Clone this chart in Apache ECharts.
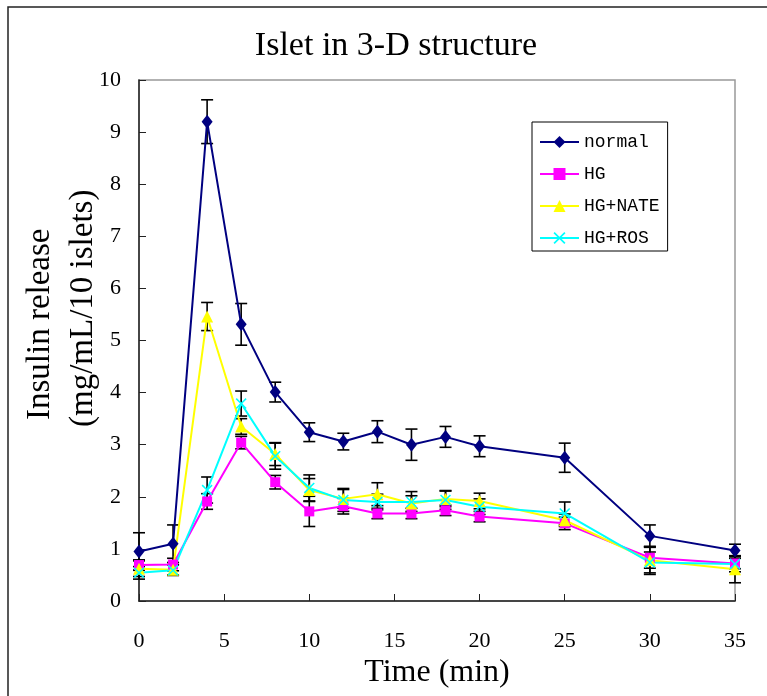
<!DOCTYPE html>
<html lang="en">
<head>
    <meta charset="UTF-8">
    <title>Islet in 3-D structure</title>
    <style>
        body{ margin: 0; background: #fff; }
        #main{ width: 767px; height: 696px; }
    </style>
</head>
<body>
<div id="main"></div>
<script src="https://cdn.jsdelivr.net/npm/echarts@6/dist/echarts.min.js"></script>
<script>
    const myChart = echarts.init(document.getElementById('main'));

    // time points (min)
    const times = [0, 2, 4, 6, 8, 10, 12, 14, 16, 18, 20, 25, 30, 35];

    // mean values and error (+/-)
    const normal    = [0.95, 1.10, 9.20, 5.31, 4.01, 3.24, 3.06, 3.25, 3.00, 3.15, 2.97, 2.75, 1.25, 0.97];
    const normalErr = [0.36, 0.36, 0.42, 0.40, 0.19, 0.18, 0.16, 0.21, 0.30, 0.20, 0.20, 0.28, 0.21, 0.12];
    const hg        = [0.69, 0.70, 1.91, 3.04, 2.28, 1.72, 1.82, 1.68, 1.68, 1.74, 1.62, 1.49, 0.83, 0.72];
    const hgErr     = [0.10, 0.12, 0.15, 0.12, 0.13, 0.29, 0.15, 0.10, 0.10, 0.10, 0.10, 0.12, 0.20, 0.10];
    const nate      = [0.62, 0.60, 5.46, 3.35, 2.82, 2.13, 1.96, 2.05, 1.87, 1.96, 1.92, 1.55, 0.78, 0.61];
    const nateErr   = [0.15, 0.10, 0.27, 0.15, 0.22, 0.22, 0.18, 0.22, 0.15, 0.15, 0.15, 0.12, 0.27, 0.26];
    const ros       = [0.54, 0.59, 2.13, 3.79, 2.78, 2.17, 1.94, 1.90, 1.90, 1.94, 1.81, 1.68, 0.74, 0.71];
    const rosErr    = [0.12, 0.10, 0.25, 0.24, 0.25, 0.25, 0.22, 0.15, 0.20, 0.18, 0.15, 0.22, 0.20, 0.15];

    const serif = '"Liberation Serif", "Times New Roman", serif';
    const mono = '"Liberation Mono", "DejaVu Sans Mono", monospace';

    // X-shaped marker for HG+ROS
    const crossPath = 'path://M0,1 L1,0 L5,4 L9,0 L10,1 L6,5 L10,9 L9,10 L5,6 L1,10 L0,9 L4,5 Z';

    /*series definitions*/
    const groups = [
        {name: 'normal',  mean: normal, err: normalErr, color: '#000080', symbol: 'diamond',  size: [11, 14]},
        {name: 'HG',      mean: hg,     err: hgErr,     color: '#ff00ff', symbol: 'rect',     size: 10},
        {name: 'HG+NATE', mean: nate,   err: nateErr,   color: '#ffff00', symbol: 'triangle', size: 12},
        {name: 'HG+ROS',  mean: ros,    err: rosErr,    color: '#00ffff', symbol: crossPath,  size: 11}
    ];

    // error bar: vertical line + caps
    function renderErr(params, api){
        const x = api.value(0);
        const top = api.coord([x, api.value(2)]);
        const bot = api.coord([x, api.value(1)]);
        const w = 6;
        const st = {stroke: '#000', lineWidth: 1.6};
        return {
            type: 'group',
            children: [
                {type: 'line', shape: {x1: top[0], y1: top[1], x2: bot[0], y2: bot[1]}, style: st},
                {type: 'line', shape: {x1: top[0]-w, y1: top[1], x2: top[0]+w, y2: top[1]}, style: st},
                {type: 'line', shape: {x1: bot[0]-w, y1: bot[1], x2: bot[0]+w, y2: bot[1]}, style: st}
            ]
        };
    }

    const series = [];
    groups.forEach(function(g){
        series.push({
            type: 'custom',
            renderItem: renderErr,
            encode: {x: 0, y: [1, 2]},
            data: times.map(function(t, i){ return [t, g.mean[i]-g.err[i], g.mean[i]+g.err[i]]; }),
            z: 1,
            silent: true
        });
    });
    groups.forEach(function(g){
        series.push({
            name: g.name,
            type: 'line',
            data: times.map(function(t, i){ return [t, g.mean[i]]; }),
            symbol: g.symbol,
            symbolSize: g.size,
            showAllSymbol: true,
            itemStyle: {color: g.color},
            lineStyle: {color: g.color, width: 2},
            z: 3
        });
    });

    const option = {
        animation: false,
        backgroundColor: '#fff',
        grid: {
            left: 139, right: 32, top: 80, bottom: 95,
            show: true, borderColor: '#999', borderWidth: 1.5
        },
        legend: {
            data: ['normal', 'HG', 'HG+NATE', 'HG+ROS'],
            orient: 'vertical',
            left: 532,
            top: 122,
            padding: [10, 8, 3, 7],
            itemWidth: 39,
            itemHeight: 15,
            itemGap: 12,
            borderColor: '#000',
            borderWidth: 1,
            backgroundColor: '#fff',
            textStyle: {fontFamily: mono, fontSize: 18, color: '#000', lineHeight: 20}
        },
        xAxis: {
            type: 'value',
            min: 0, max: 35, interval: 5,
            name: 'Time (min)',
            nameLocation: 'middle',
            nameGap: 48,
            nameTextStyle: {fontFamily: serif, fontSize: 32, color: '#000'},
            axisLine: {lineStyle: {color: '#222', width: 1.5}},
            axisTick: {inside: true, length: 7, lineStyle: {color: '#222'}},
            axisLabel: {fontFamily: serif, fontSize: 22, color: '#000', margin: 29},
            splitLine: {show: false}
        },
        yAxis: {
            type: 'value',
            min: 0, max: 10, interval: 1,
            axisLine: {show: true, lineStyle: {color: '#222', width: 1.5}},
            axisTick: {show: true, inside: true, length: 7, lineStyle: {color: '#222'}},
            axisLabel: {fontFamily: serif, fontSize: 22, color: '#000', margin: 18},
            splitLine: {show: false}
        },
        graphic: [
            {
                type: 'rect', z: -10, silent: true,
                shape: {x: 8, y: 7, width: 820, height: 820},
                style: {fill: null, stroke: '#222', lineWidth: 1.5}
            },
            {
                type: 'text', x: 396, y: 46,
                style: {text: 'Islet in 3-D structure', font: '34px ' + serif, fill: '#000',
                        textAlign: 'center', textVerticalAlign: 'middle'}
            },
            {
                type: 'text', x: 40, y: 420, rotation: Math.PI / 2,
                style: {text: 'Insulin release', font: '33px ' + serif, fill: '#000',
                        textAlign: 'left', textVerticalAlign: 'middle'}
            },
            {
                type: 'text', x: 83, y: 427, rotation: Math.PI / 2,
                style: {text: '(mg/mL/10 islets)', font: '33px ' + serif, fill: '#000',
                        textAlign: 'left', textVerticalAlign: 'middle'}
            }
        ],
        series: series
    };

    myChart.setOption(option);
</script>
</body>
</html>
